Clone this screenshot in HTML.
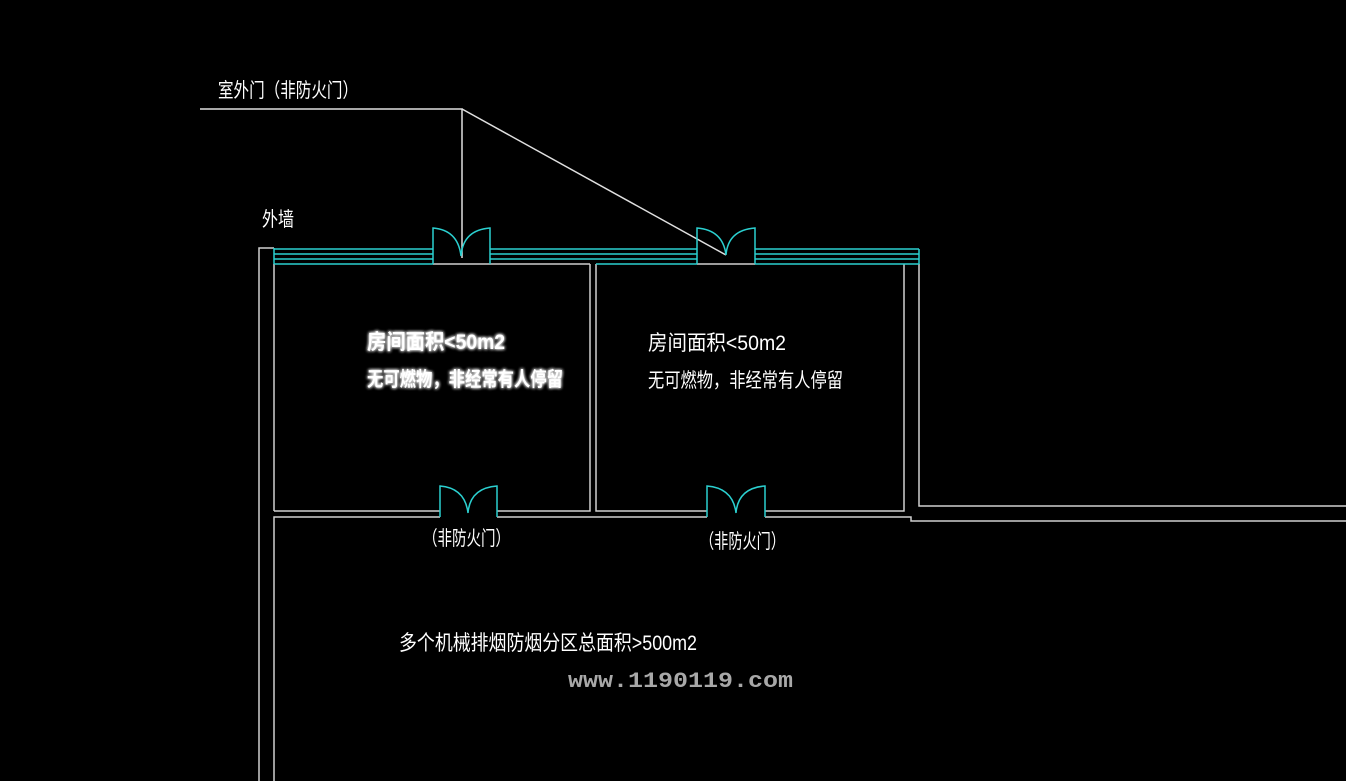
<!DOCTYPE html>
<html><head><meta charset="utf-8"><style>
html,body{margin:0;padding:0;background:#000;width:1346px;height:781px;overflow:hidden}
svg text{font-family:"Liberation Sans","Noto Sans CJK SC",sans-serif;fill:#fff}
</style></head><body>
<svg width="1346" height="781" viewBox="0 0 1346 781" xmlns="http://www.w3.org/2000/svg">
<defs><filter id="g" x="-10%" y="-30%" width="120%" height="160%"><feGaussianBlur stdDeviation="1.5" result="b"/><feMerge><feMergeNode in="b"/><feMergeNode in="b"/><feMergeNode in="SourceGraphic"/></feMerge></filter></defs>
<g stroke="#d0d0d0" stroke-width="1.5" fill="none">
<!-- leader -->
<polyline points="200,109 462,109 462,258" stroke="#e0e0e0"/>
<line x1="462" y1="109" x2="726" y2="255" stroke="#e0e0e0"/>
<!-- outer left -->
<polyline points="274,248 259,248 259,781"/>
<line x1="274" y1="264" x2="274" y2="511"/>
<!-- room1 -->
<polyline points="274,511 440,511"/>
<polyline points="497,511 590,511 590,264"/>
<polyline points="596,264 596,511 707,511"/>
<polyline points="765,511 904,511 904,264"/>
<polyline points="919,264 919,506 1346,506"/>
<polyline points="274,781 274,517 440,517"/>
<polyline points="497,517 707,517"/>
<polyline points="765,517 911,517 911,521 1346,521"/>
<line x1="433" y1="264" x2="490" y2="264"/>
<line x1="697" y1="264" x2="755" y2="264"/>
</g>
<g stroke="#2bd0d0" stroke-width="1.5" fill="none">
<line x1="274" y1="248" x2="274" y2="264"/>
<line x1="274" y1="249" x2="433" y2="249"/><line x1="274" y1="254" x2="433" y2="254"/><line x1="274" y1="259" x2="433" y2="259"/>
<line x1="490" y1="249" x2="697" y2="249"/><line x1="490" y1="254" x2="697" y2="254"/><line x1="490" y1="259" x2="697" y2="259"/>
<line x1="755" y1="249" x2="919" y2="249"/><line x1="755" y1="254" x2="919" y2="254"/><line x1="755" y1="259" x2="919" y2="259"/>
<line x1="755" y1="264" x2="919" y2="264"/><line x1="919" y1="249" x2="919" y2="264"/>
<line x1="490" y1="264" x2="590" y2="264" stroke="#ccc"/>
<line x1="274" y1="264" x2="433" y2="264"/>
<line x1="596" y1="264" x2="697" y2="264"/>
<!-- doors top -->
<path d="M433,264 V228 Q458,230 461,256 Q463,230 490,228 V264"/>
<path d="M697,264 V228 Q723,230 726,255 Q728,230 755,228 V264"/>
<!-- doors bottom -->
<path d="M440,517 V486 Q465,488 468,513 Q470,488 497,486 V517"/>
<path d="M707,517 V486 Q733,488 736,513 Q738,488 765,486 V517"/>
</g>
<text x="218" y="97" font-size="20" textLength="140" lengthAdjust="spacingAndGlyphs">室外门（非防火门）</text>
<text x="262" y="226" font-size="20" textLength="32" lengthAdjust="spacingAndGlyphs">外墙</text>
<g filter="url(#g)" font-weight="bold">
<text x="367" y="349" font-size="21" textLength="138" lengthAdjust="spacingAndGlyphs">房间面积&lt;50m2</text>
<text x="367" y="386" font-size="20" textLength="196" lengthAdjust="spacingAndGlyphs">无可燃物，非经常有人停留</text>
</g>
<text x="648" y="350" font-size="21" textLength="138" lengthAdjust="spacingAndGlyphs">房间面积&lt;50m2</text>
<text x="648" y="387" font-size="20" textLength="195" lengthAdjust="spacingAndGlyphs">无可燃物，非经常有人停留</text>
<text x="423" y="545" font-size="20" textLength="87" lengthAdjust="spacingAndGlyphs">（非防火门）</text>
<text x="700" y="548" font-size="20" textLength="85" lengthAdjust="spacingAndGlyphs">（非防火门）</text>
<text x="399" y="650" font-size="21" textLength="298" lengthAdjust="spacingAndGlyphs">多个机械排烟防烟分区总面积&gt;500m2</text>
<text x="568" y="687" font-size="22" font-weight="bold" style="fill:#a8a8a8;font-family:'Liberation Mono',monospace" textLength="225" lengthAdjust="spacingAndGlyphs">www.1190119.com</text>
</svg>
</body></html>
